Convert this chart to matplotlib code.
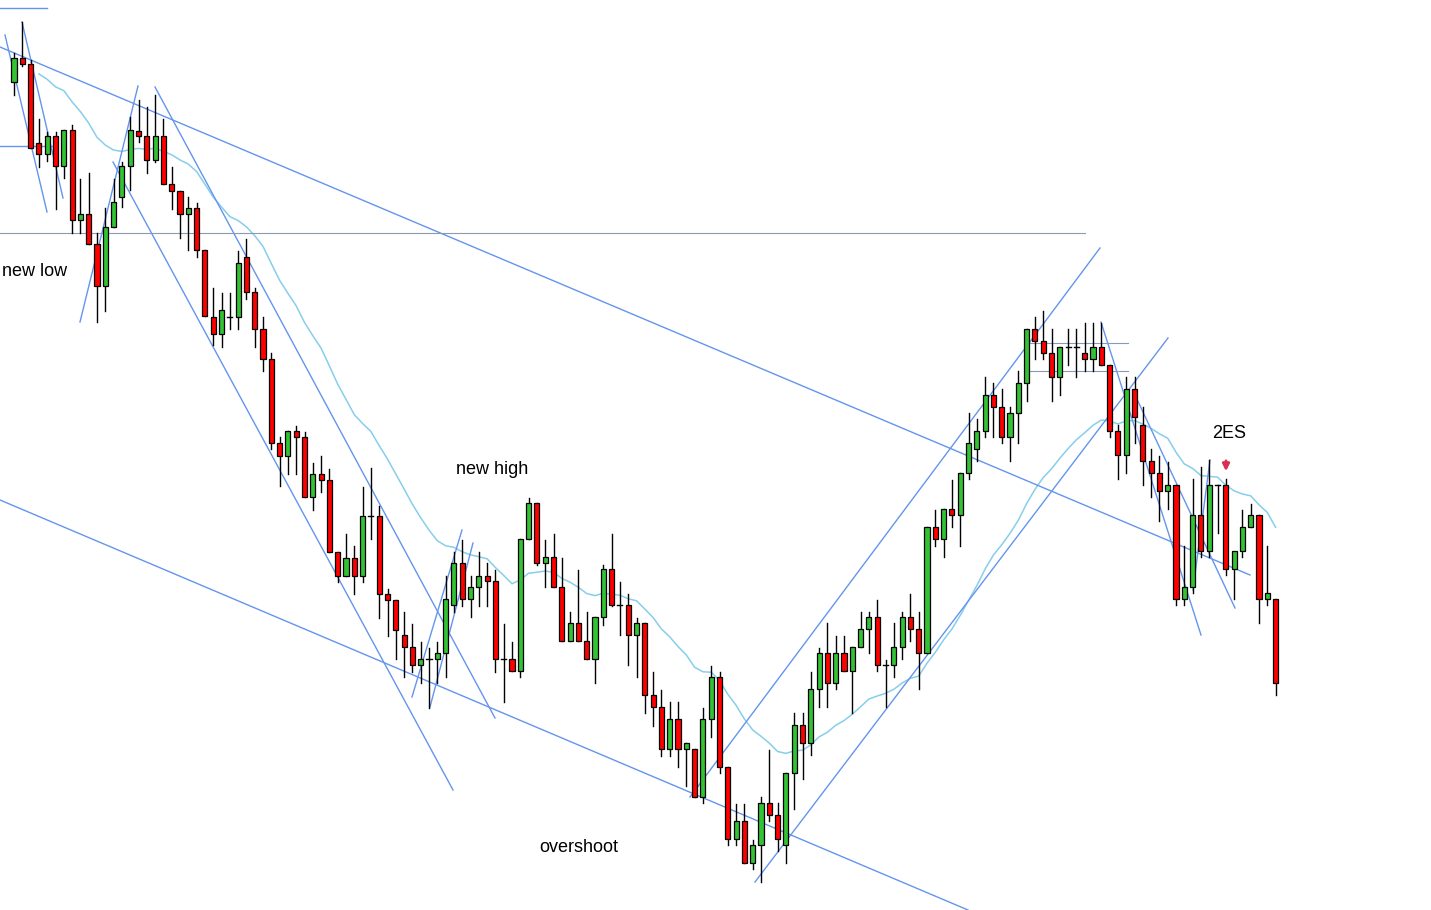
import numpy as np
import pandas as pd
import matplotlib
matplotlib.use("Agg")
import matplotlib.pyplot as plt

plt.rcParams['font.family'] = ['Liberation Sans', 'DejaVu Sans']

# readings (screen units, larger = lower), open/high/low/close
raw = [
    (82,53,95,58),(58,22,66,64),(64,60,148,148),(143,119,167,154),(154,132,161,136),
    (136,132,209,166),(166,130,178,130),(130,125,233,220),(220,179,233,214),(214,173,244,244),
    (244,233,322,286),(286,208,311,227),(227,179,227,202),(197,162,207,166),(166,117,190,130),
    (131,100,142,136),(136,107,173,160),(160,95,162,136),(136,119,184,184),(184,167,209,191),
    (191,191,238,214),(214,197,250,208),(208,203,257,250),(250,250,316,316),
    (317,288,345,334),(334,293,347,310),(317,293,329,317),(317,251,329,263),(257,239,299,292),
    (292,288,347,329),(329,317,371,359),(359,353,449,443),(443,437,486,456),(456,431,474,431),
    (431,426,474,437),(437,432,497,497),(497,463,510,474),(474,456,492,480),(480,469,552,552),
    (552,552,582,576),(576,534,576,558),(558,546,594,576),(576,487,582,516),(516,468,539,516),
    (516,506,618,594),(594,589,636,600),(600,600,659,630),
    (635,612,677,647),(647,624,672,665),(665,642,683,659),(659,648,708,659),(659,642,683,653),
    (653,576,677,599),(605,552,612,563),(563,540,606,599),(599,576,617,587),(587,552,606,576),
    (576,563,606,581),(581,570,672,659),(659,624,702,659),(659,642,671,671),(671,539,677,539),
    (539,498,539,503),(503,503,565,563),(563,540,587,557),(557,534,587,587),(587,558,641,641),
    (641,612,641,623),(623,570,641,641),(641,612,659,659),(659,617,683,617),(617,565,625,569),
    (569,534,606,605),(605,582,635,605),(605,594,665,635),(635,618,677,623),(623,623,713,695),
    (695,672,726,707),(707,690,756,749),(749,702,756,719),(719,702,767,749),(749,743,786,743),
    (749,749,797,797),(797,708,803,719),(719,666,737,677),(677,672,773,767),(767,767,845,839),
    (839,804,845,821),(821,804,863,863),(863,840,869,845),(845,797,882,803),(803,750,821,815),
    (815,803,851,839),(845,773,863,773),(773,713,809,725),(725,713,779,743),(743,672,755,689),
    (689,648,707,653),(653,623,707,683),(683,636,689,653),(653,636,671,671),(671,647,713,647),
    (647,612,647,629),(629,612,653,617),(617,600,671,665),(665,660,707,665),(665,623,677,647),
    (647,612,659,617),(617,594,641,629),(629,612,689,653),(653,527,653,527),(527,510,546,539),
    (539,509,557,509),(509,480,527,515),(515,473,546,473),(473,413,479,443),(449,419,461,431),
    (431,377,437,395),(395,383,437,407),(407,389,443,437),(437,407,461,413),(413,371,443,383),
    (383,329,401,329),(329,317,359,341),(341,311,359,353),(353,329,401,377),(377,347,395,347),
    (347,329,365,347),(347,329,377,347),(353,323,371,359),(359,323,371,347),(347,323,365,365),
    (365,365,437,431),(431,425,479,455),(455,377,473,389),(389,377,443,417),(425,407,485,461),
    (461,449,497,473),(473,456,521,491),(491,462,509,485),(485,485,605,599),(599,546,605,587),
    (587,479,593,515),(515,467,557,551),(551,460,557,485),(485,485,533,485),(485,479,575,569),
    (569,569,599,551),(551,510,557,527),(527,504,527,515),(515,515,623,599),(599,546,605,593),
    (599,599,695,683),
]
opens = 1000 - np.array([r[0] for r in raw], float)
highs = 1000 - np.array([r[1] for r in raw], float)
lows = 1000 - np.array([r[2] for r in raw], float)
closes = 1000 - np.array([r[3] for r in raw], float)
idx = np.arange(len(raw))

# hand-drawn lines, screen endpoints (x, y)
trend_lines = [
    ((0, 47), (1250, 575)), ((0, 500), (968, 910)),
    ((5, 35), (47, 212)), ((22, 22), (63, 198)),
    ((80, 322), (138, 86)), ((113, 162), (453, 790)), ((155, 87), (495, 718)),
    ((412, 697), (462, 530)), ((430, 707), (473, 543)),
    ((690, 797), (1100, 248)), ((755, 882), (1168, 338)),
    ((1101, 322), (1201, 635)), ((1135, 395), (1235, 608)),
    ((1193, 590), (1210, 460)), ((0, 8), (47, 8)), ((0, 146), (57, 146)),
]
box_lines = [((1030, 343), (1128, 343)), ((1030, 371), (1128, 371))]
grey_line = ((0, 233), (1085, 233))

def sx(x):
    return (x - 14) / 8.3

def sy(y):
    return 1000 - y

fig = plt.figure(figsize=(14.31, 9.10), dpi=100)
ax = fig.add_axes([0, 0, 1, 1])
ax.set_xlim(sx(0), sx(1431))
ax.set_ylim(sy(910), sy(0))
ax.axis("off")

ma = pd.Series(closes).ewm(span=22, adjust=False).mean()
ax.plot(idx[3:], ma[3:], color="#87ceeb", lw=1.1, zorder=1)

for a, b in trend_lines:
    ax.plot([sx(a[0]), sx(b[0])], [sy(a[1]), sy(b[1])], color="#6495ed", lw=1, zorder=2)
for a, b in box_lines:
    ax.plot([sx(a[0]), sx(b[0])], [sy(a[1]), sy(b[1])], color="#8899bb", lw=0.8, zorder=2)
ax.plot([sx(grey_line[0][0]), sx(grey_line[1][0])], [sy(233), sy(233)], color="#8a9bb0", lw=0.8, zorder=2)

w = 0.62
for i in idx:
    o, h, l, c = opens[i], highs[i], lows[i], closes[i]
    ax.plot([i, i], [l, h], color="black", lw=1, zorder=3)
    if abs(c - o) < 0.5:
        ax.plot([i - w / 2, i + w / 2], [o, o], color="black", lw=1, zorder=4)
        continue
    col = "#33c233" if c > o else "#ff0000"
    ax.add_patch(plt.Rectangle((i - w / 2, min(o, c)), w, abs(c - o), facecolor=col,
                               edgecolor="black", lw=0.9, zorder=4))

ax.text(sx(2), sy(272), "new low", fontsize=13, va="center", ha="left")
ax.text(sx(492), sy(470), "new high", fontsize=13, va="center", ha="center")
ax.text(sx(579), sy(847), "overshoot", fontsize=13, va="center", ha="center")
ax.text(sx(1229), sy(433), "2ES", fontsize=13, va="center", ha="center")
ax.annotate("", xy=(sx(1226), sy(474)), xytext=(sx(1226), sy(458)),
            arrowprops=dict(arrowstyle="-|>", color="#d9304f", lw=2, mutation_scale=10))

fig.savefig("out.png", dpi=100)
